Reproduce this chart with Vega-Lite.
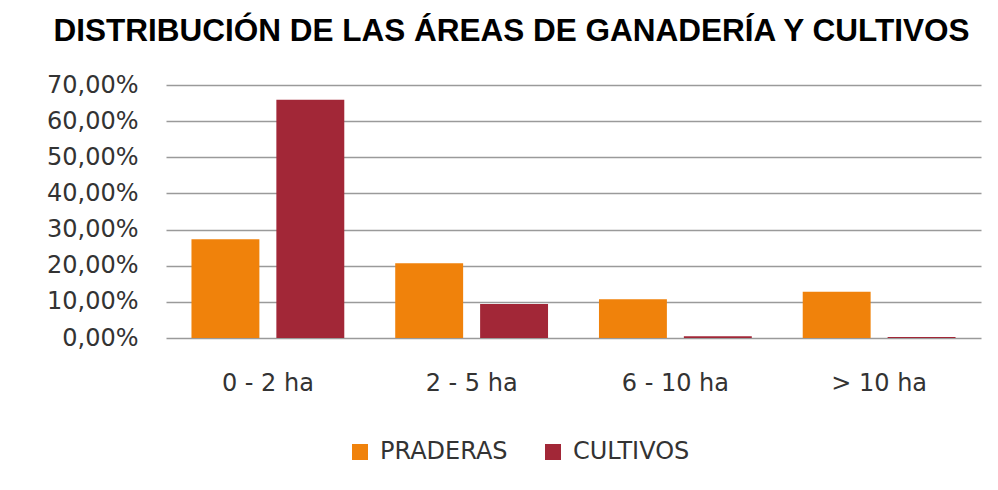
{
  "$schema": "https://vega.github.io/schema/vega-lite/v6.json",
  "autosize": {"type": "none"},
  "width": 815,
  "height": 253,
  "padding": {"left": 166, "top": 85, "right": 17, "bottom": 152},
  "background": "white",
  "title": {
    "text": "DISTRIBUCIÓN DE LAS ÁREAS DE GANADERÍA Y CULTIVOS",
    "font": "Liberation Sans",
    "fontSize": 31.5,
    "fontWeight": "bold",
    "color": "#000000",
    "anchor": "middle",
    "dx": -62,
    "offset": 26
  },
  "data": {
    "values": [
      {"area": "0 - 2 ha", "tipo": "PRADERAS", "valor": 0.273},
      {"area": "0 - 2 ha", "tipo": "CULTIVOS", "valor": 0.659},
      {"area": "2 - 5 ha", "tipo": "PRADERAS", "valor": 0.207},
      {"area": "2 - 5 ha", "tipo": "CULTIVOS", "valor": 0.094},
      {"area": "6 - 10 ha", "tipo": "PRADERAS", "valor": 0.107},
      {"area": "6 - 10 ha", "tipo": "CULTIVOS", "valor": 0.005},
      {"area": "> 10 ha", "tipo": "PRADERAS", "valor": 0.128},
      {"area": "> 10 ha", "tipo": "CULTIVOS", "valor": 0.003}
    ]
  },
  "mark": {"type": "bar"},
  "encoding": {
    "x": {
      "field": "area",
      "type": "nominal",
      "sort": ["0 - 2 ha", "2 - 5 ha", "6 - 10 ha", "> 10 ha"],
      "scale": {"paddingInner": 0.25, "paddingOuter": 0.125},
      "axis": {
        "title": null,
        "labelAngle": 0,
        "ticks": false,
        "domain": false,
        "labelPadding": 33,
        "labelFont": "DejaVu Sans",
        "labelFontSize": 24,
        "labelColor": "#333333"
      }
    },
    "xOffset": {
      "field": "tipo",
      "type": "nominal",
      "sort": ["PRADERAS", "CULTIVOS"],
      "scale": {"paddingInner": 0.2}
    },
    "y": {
      "field": "valor",
      "type": "quantitative",
      "scale": {"domain": [0, 0.7], "nice": false},
      "axis": {
        "title": null,
        "values": [0, 0.1, 0.2, 0.3, 0.4, 0.5, 0.6, 0.7],
        "labelExpr": "replace(format(datum.value, '.2%'), '.', ',')",
        "ticks": false,
        "domain": false,
        "labelPadding": 28,
        "labelFont": "DejaVu Sans",
        "labelFontSize": 24,
        "labelColor": "#333333",
        "gridColor": "#9a9a9a",
        "gridWidth": 1.4
      }
    },
    "color": {
      "field": "tipo",
      "type": "nominal",
      "sort": ["PRADERAS", "CULTIVOS"],
      "scale": {"domain": ["PRADERAS", "CULTIVOS"], "range": ["#F0820B", "#A22737"]},
      "legend": {
        "title": null,
        "orient": "none",
        "direction": "horizontal",
        "legendX": 182,
        "legendY": 355,
        "symbolType": "square",
        "symbolSize": 256,
        "symbolStrokeWidth": 0,
        "labelFont": "DejaVu Sans",
        "labelFontSize": 24,
        "labelColor": "#333333",
        "labelOffset": 8,
        "columnPadding": 33
      }
    }
  },
  "config": {
    "view": {"stroke": null},
    "axis": {"gridOpacity": 1}
  }
}
